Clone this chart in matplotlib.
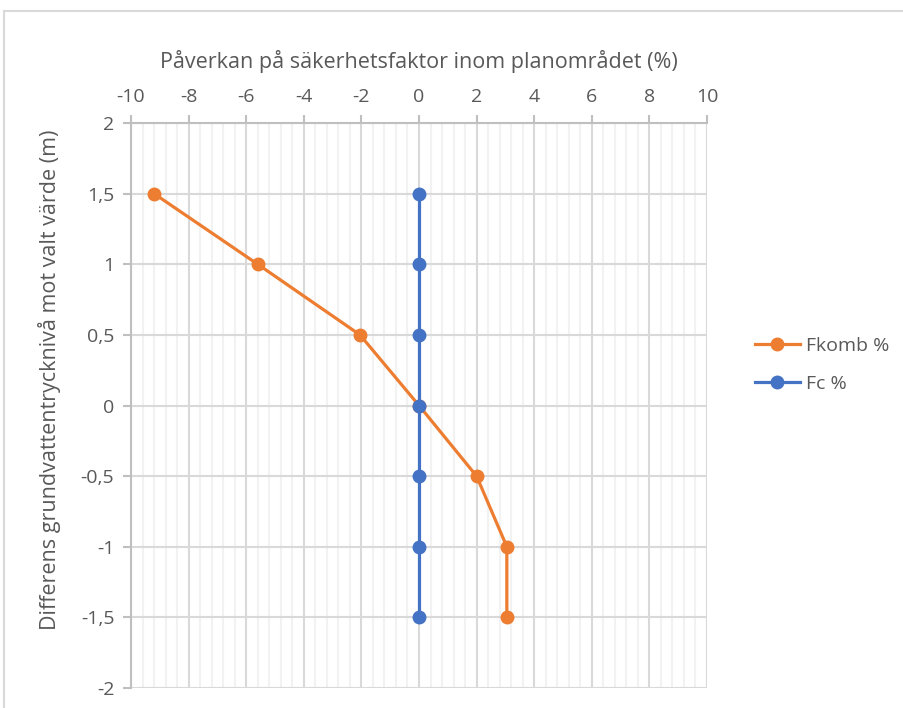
import matplotlib
matplotlib.use('Agg')
import matplotlib.pyplot as plt
from matplotlib.patches import Rectangle
from matplotlib.ticker import MultipleLocator

# data
depth = [1.5, 1.0, 0.5, 0.0, -0.5, -1.0, -1.5]
fkomb = [-9.2, -5.6, -2.05, 0.0, 2.0, 3.05, 3.05]
fc = [0, 0, 0, 0, 0, 0, 0]
x_ticks = [-10, -8, -6, -4, -2, 0, 2, 4, 6, 8, 10]
y_ticks = [2, 1.5, 1, 0.5, 0, -0.5, -1, -1.5, -2]

plt.rcParams['font.family'] = ['Open Sans', 'DejaVu Sans']
TXT = '#595959'
GRID = '#d9d9d9'

fig = plt.figure(figsize=(9.04, 7.08), dpi=100)
ax = fig.add_axes([131 / 904, 1 - 688 / 708, 576 / 904, 565 / 708])

# chart border (cut off on right and bottom like the screenshot)
fig.patches.append(Rectangle((4 / 904, -0.05), 1.2, 1 - 11 / 708 + 0.05,
                             transform=fig.transFigure, fill=False,
                             edgecolor=GRID, linewidth=1.5))

ax.plot(fkomb, depth, '-o', color='#ed7d31', lw=2.3, ms=9, label='Fkomb %', zorder=3)
ax.plot(fc, depth, '-o', color='#4472c4', lw=2.3, ms=9, label='Fc %', zorder=3)

ax.set_xlim(-10, 10)
ax.set_ylim(-2, 2)
ax.xaxis.set_minor_locator(MultipleLocator(0.4))
ax.set_xticks(x_ticks)
ax.set_xticklabels([str(t) for t in x_ticks])
ax.set_yticks(y_ticks)
ax.set_yticklabels([f'{t:g}'.replace('.', ',') for t in y_ticks])

ax.xaxis.tick_top()
ax.xaxis.set_label_position('top')
ax.grid(True, which='major', color=GRID, lw=1.5)
ax.grid(True, which='minor', axis='x', color='#f2f2f2', lw=1.5)
ax.set_axisbelow(True)
for s in ['right', 'bottom']:
    ax.spines[s].set_visible(False)
for s in ['left', 'top']:
    ax.spines[s].set_color('#bfbfbf')
    ax.spines[s].set_linewidth(1.5)
ax.tick_params(which='major', length=6, width=1.5, color='#bfbfbf',
               labelcolor=TXT, labelsize=14, pad=6)
ax.tick_params(which='minor', length=0)

ax.set_xlabel('Påverkan på säkerhetsfaktor inom planområdet (%)',
              fontsize=15.5, color=TXT, va='center')
ax.xaxis.set_label_coords(0.5, 1.108)
ax.set_ylabel('Differens grundvattentrycknivå mot valt värde (m)',
              fontsize=15.5, color=TXT, va='center')
ax.yaxis.set_label_coords(-0.142, 0.545)

leg = ax.legend(loc='center left', bbox_to_anchor=(1.053, 0.572), frameon=False,
                fontsize=14, labelcolor=TXT, handlelength=2.3, handletextpad=0.3,
                labelspacing=1.0)

fig.savefig('out.png', dpi=100)
